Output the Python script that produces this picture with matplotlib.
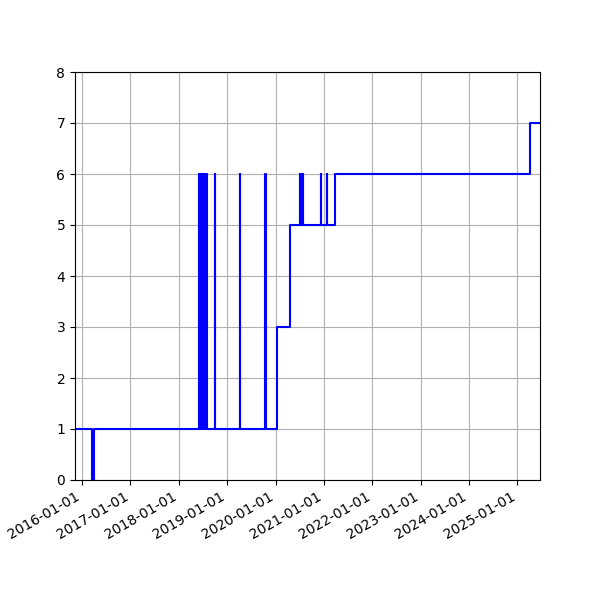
import matplotlib
matplotlib.use("Agg")
import matplotlib.pyplot as plt
import matplotlib.dates as mdates
import pandas as pd

# change points (steps-post): date -> value
dates = [
    "2015-11-09", "2016-03-19", "2016-03-31",
    "2018-06-03", "2018-06-08", "2018-06-11", "2018-06-15", "2018-06-18",
    "2018-06-23", "2018-06-26", "2018-07-01", "2018-07-04", "2018-07-09",
    "2018-07-12", "2018-07-17", "2018-07-20", "2018-07-25", "2018-07-28",
    "2018-08-01",
    "2018-09-30", "2018-10-02",
    "2019-04-09", "2019-04-11",
    "2019-10-17", "2019-10-19",
    "2020-01-15", "2020-04-17",
    "2020-07-05", "2020-07-07", "2020-07-12", "2020-07-14",
    "2020-07-25", "2020-07-27",
    "2020-12-11", "2020-12-13",
    "2021-01-25", "2021-01-27",
    "2021-03-26", "2025-04-03", "2025-06-20",
]
values = [
    1, 0, 1,
    6, 1, 6, 1, 6,
    1, 6, 1, 6, 1,
    6, 1, 6, 1, 6,
    1,
    6, 1,
    6, 1,
    6, 1,
    3, 5,
    6, 5, 6, 5,
    6, 5,
    6, 5,
    6, 5,
    6, 7, 7,
]

x = pd.to_datetime(dates)

fig, ax = plt.subplots(figsize=(6, 6), dpi=100)
ax.plot(x, values, color="b", drawstyle="steps-post")
ax.set_xlim(x[0], x[-1])
ax.set_ylim(0, 8)
ax.xaxis.set_major_locator(mdates.YearLocator())
ax.xaxis.set_major_formatter(mdates.DateFormatter("%Y-%m-%d"))
ax.grid(True)
fig.autofmt_xdate()

fig.savefig("out.png", dpi=100)
